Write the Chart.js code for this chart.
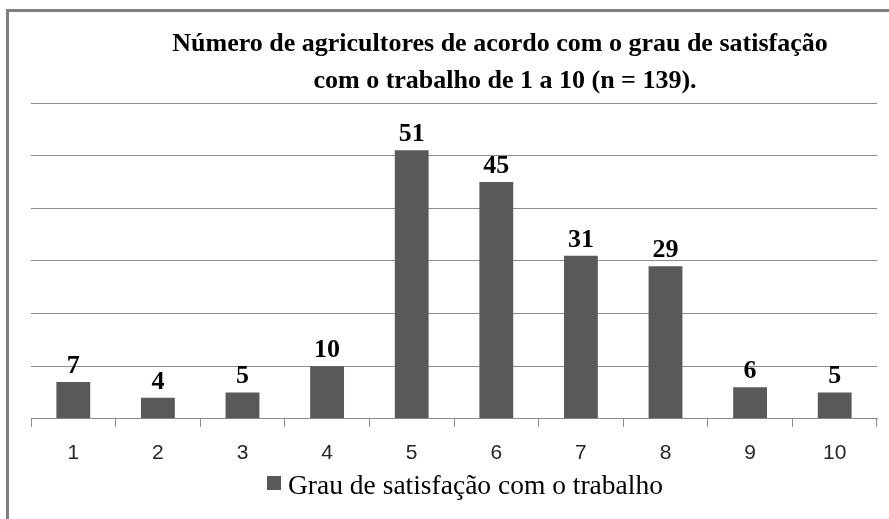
<!DOCTYPE html>
<html>
<head>
<meta charset="utf-8">
<script src="https://cdn.jsdelivr.net/npm/chart.js@4"></script>
<style>
  html, body { margin: 0; padding: 0; background: #fff; }
  #wrap { position: relative; width: 889px; height: 519px; }
  #frame { position: absolute; left: 6px; top: 9px; right: 0; bottom: 0;
           border-left: 3px solid #7f7f7f; border-top: 3px solid #7f7f7f; }
  canvas { position: absolute; left: 0; top: 0; }
</style>
</head>
<body>
<div id="wrap">
  <div id="frame"></div>
  <canvas id="grafico" width="889" height="519"></canvas>
</div>
<script>
const graus = ["1", "2", "3", "4", "5", "6", "7", "8", "9", "10"];
const agricultores = [7, 4, 5, 10, 51, 45, 31, 29, 6, 5];
const tituloLinhas = [
  "Número de agricultores de acordo com o grau de satisfação",
  "com o trabalho de 1 a 10 (n = 139).",
];
const nomeSerie = "Grau de satisfação com o trabalho";

const corBarra = "#595959";
const corLinha = "#8c8c8c";

// titulo, legenda e rotulos de valor desenhados a mao
const extras = {
  id: "extras",
  afterDatasetsDraw(chart) {
    const ctx = chart.ctx;
    ctx.save();
    ctx.fillStyle = "#000";
    ctx.textAlign = "center";
    ctx.textBaseline = "alphabetic";
    ctx.font = "bold 26px 'Liberation Serif'";
    const meta = chart.getDatasetMeta(0);
    meta.data.forEach((bar, i) => {
      ctx.fillText(agricultores[i], bar.x, bar.y - 9);
    });
    ctx.restore();
  },
  afterDraw(chart) {
    const ctx = chart.ctx;
    ctx.save();
    ctx.fillStyle = "#000";
    ctx.textAlign = "center";
    ctx.font = "bold 26px 'Liberation Serif'";
    ctx.fillText(tituloLinhas[0], 500, 51);
    ctx.fillText(tituloLinhas[1], 505, 88);

    // legenda
    ctx.font = "27.5px 'Liberation Serif'";
    ctx.textAlign = "left";
    const x0 = 267;
    ctx.fillStyle = corBarra;
    ctx.fillRect(x0, 476, 14, 14);
    ctx.fillStyle = "#000";
    ctx.fillText(nomeSerie, x0 + 21, 494);
    ctx.restore();
  },
};

new Chart(document.getElementById("grafico"), {
  type: "bar",
  data: {
    labels: graus,
    datasets: [
      {
        label: nomeSerie,
        data: agricultores,
        backgroundColor: corBarra,
        categoryPercentage: 1,
        barPercentage: 0.4,
      },
    ],
  },
  options: {
    responsive: false,
    animation: false,
    layout: { padding: { left: 31, right: 12, top: 103, bottom: 39 } },
    plugins: {
      legend: { display: false },
      title: { display: false },
      tooltip: { enabled: false },
    },
    scales: {
      x: {
        grid: {
          drawOnChartArea: false,
          drawTicks: true,
          tickLength: 8,
          color: corLinha,
          offset: true,
        },
        border: { color: corLinha, width: 1 },
        ticks: {
          color: "#262626",
          padding: 14,
          font: { family: "'Liberation Sans'", size: 21 },
        },
      },
      y: {
        min: 0,
        max: 60,
        ticks: { display: false, stepSize: 10 },
        grid: { color: corLinha, drawTicks: false },
        border: { display: false },
      },
    },
  },
  plugins: [extras],
});
</script>
</body>
</html>
